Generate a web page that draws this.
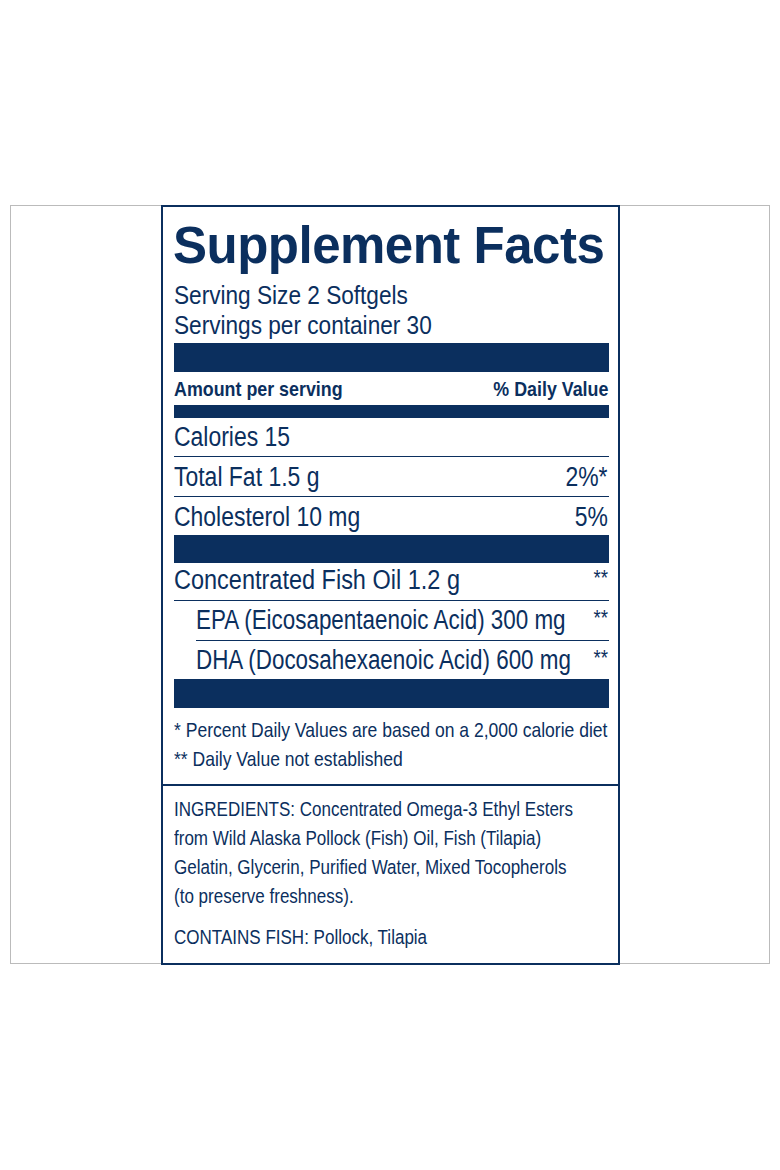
<!DOCTYPE html>
<html><head><meta charset="utf-8">
<script src="https://cdn.jsdelivr.net/npm/chart.js@4"></script>
<style>
body{margin:0;width:780px;height:1170px;background:#fff;position:relative;font-family:"Liberation Sans",Arial,sans-serif;color:#0b2f5e}
.outer{position:absolute;left:10px;top:205px;width:760px;height:759px;border:1px solid #bbb;box-sizing:border-box}
.box{position:absolute;left:161px;top:205px;width:459px;height:760px;border:2px solid #0b2f5e;box-sizing:border-box;background:#fff}
.t{position:absolute;white-space:nowrap;line-height:1;transform:scaleX(0.85);transform-origin:left top}
.bar{position:absolute;left:174px;width:435px;background:#0b2f5e}
.ln{position:absolute;height:1px;background:#0b2f5e}
.r{right:172px;text-align:right;transform-origin:right top}
</style></head><body>
<div class="outer"></div><div class="box"></div>
<div id="c"></div>
<script>
const title="Supplement Facts";
const servingLines=["Serving Size 2 Softgels","Servings per container 30"];
const headers=["Amount per serving","% Daily Value"];
const rows1=[["Calories 15",""],["Total Fat 1.5 g","2%*"],["Cholesterol 10 mg","5%"]];
const rows2=[["Concentrated Fish Oil 1.2 g","**",0],["EPA (Eicosapentaenoic Acid) 300 mg","**",1],["DHA (Docosahexaenoic Acid) 600 mg","**",1]];
const footnotes=["* Percent Daily Values are based on a 2,000 calorie diet","** Daily Value not established"];
const ingredients=["INGREDIENTS: Concentrated Omega-3 Ethyl Esters","from Wild Alaska Pollock (Fish) Oil, Fish (Tilapia)","Gelatin, Glycerin, Purified Water, Mixed Tocopherols","(to preserve freshness)."];
const contains="CONTAINS FISH: Pollock, Tilapia";
const c=document.getElementById('c');
function add(cls,style,txt){const d=document.createElement('div');d.className=cls;d.style.cssText=style;if(txt)d.textContent=txt;c.appendChild(d);}
add('t','left:173px;top:216px;font:bold 51px "Liberation Sans",Arial,sans-serif;letter-spacing:-0.5px;transform:none',title);
servingLines.forEach((s,i)=>add('t',`left:174px;top:${282+i*30}px;font-size:26px;transform:scaleX(0.87)`,s));
add('bar','top:343px;height:29px');
add('t','left:174px;top:378px;font-size:21px;font-weight:bold',headers[0]);
add('t r','top:378px;font-size:21px;font-weight:bold',headers[1]);
add('bar','top:405px;height:13px');
rows1.forEach((r,i)=>{const y=424+i*40;add('t',`left:174px;top:${y}px;font-size:27px`,r[0]);if(r[1])add('t r',`top:${y}px;font-size:27px`,r[1]);if(i<2)add('ln',`left:174px;width:435px;top:${456+i*40}px`);});
add('bar','top:535px;height:28px');
rows2.forEach((r,i)=>{const y=567+i*40;const x=r[2]?196:174;add('t',`left:${x}px;top:${y}px;font-size:27px;transform:scaleX(${r[2]?0.83:0.87})`,r[0]);add('t r',`top:${y}px;font-size:22px`,r[1]);if(i<2)add('ln',`left:${i?196:174}px;width:${i?413:435}px;top:${600+i*40}px`);});
add('bar','top:679px;height:29px');
footnotes.forEach((f,i)=>add('t',`left:174px;top:${719+i*29}px;font-size:21px;transform:scaleX(0.835)`,f));
add('ln','left:162px;width:457px;top:784px;height:2px');
ingredients.forEach((f,i)=>add('t',`left:174px;top:${799+i*29}px;font-size:20.5px;transform:scaleX(0.83)`,f));
add('t','left:174px;top:927px;font-size:20.5px;transform:scaleX(0.83)',contains);
</script></body></html>
